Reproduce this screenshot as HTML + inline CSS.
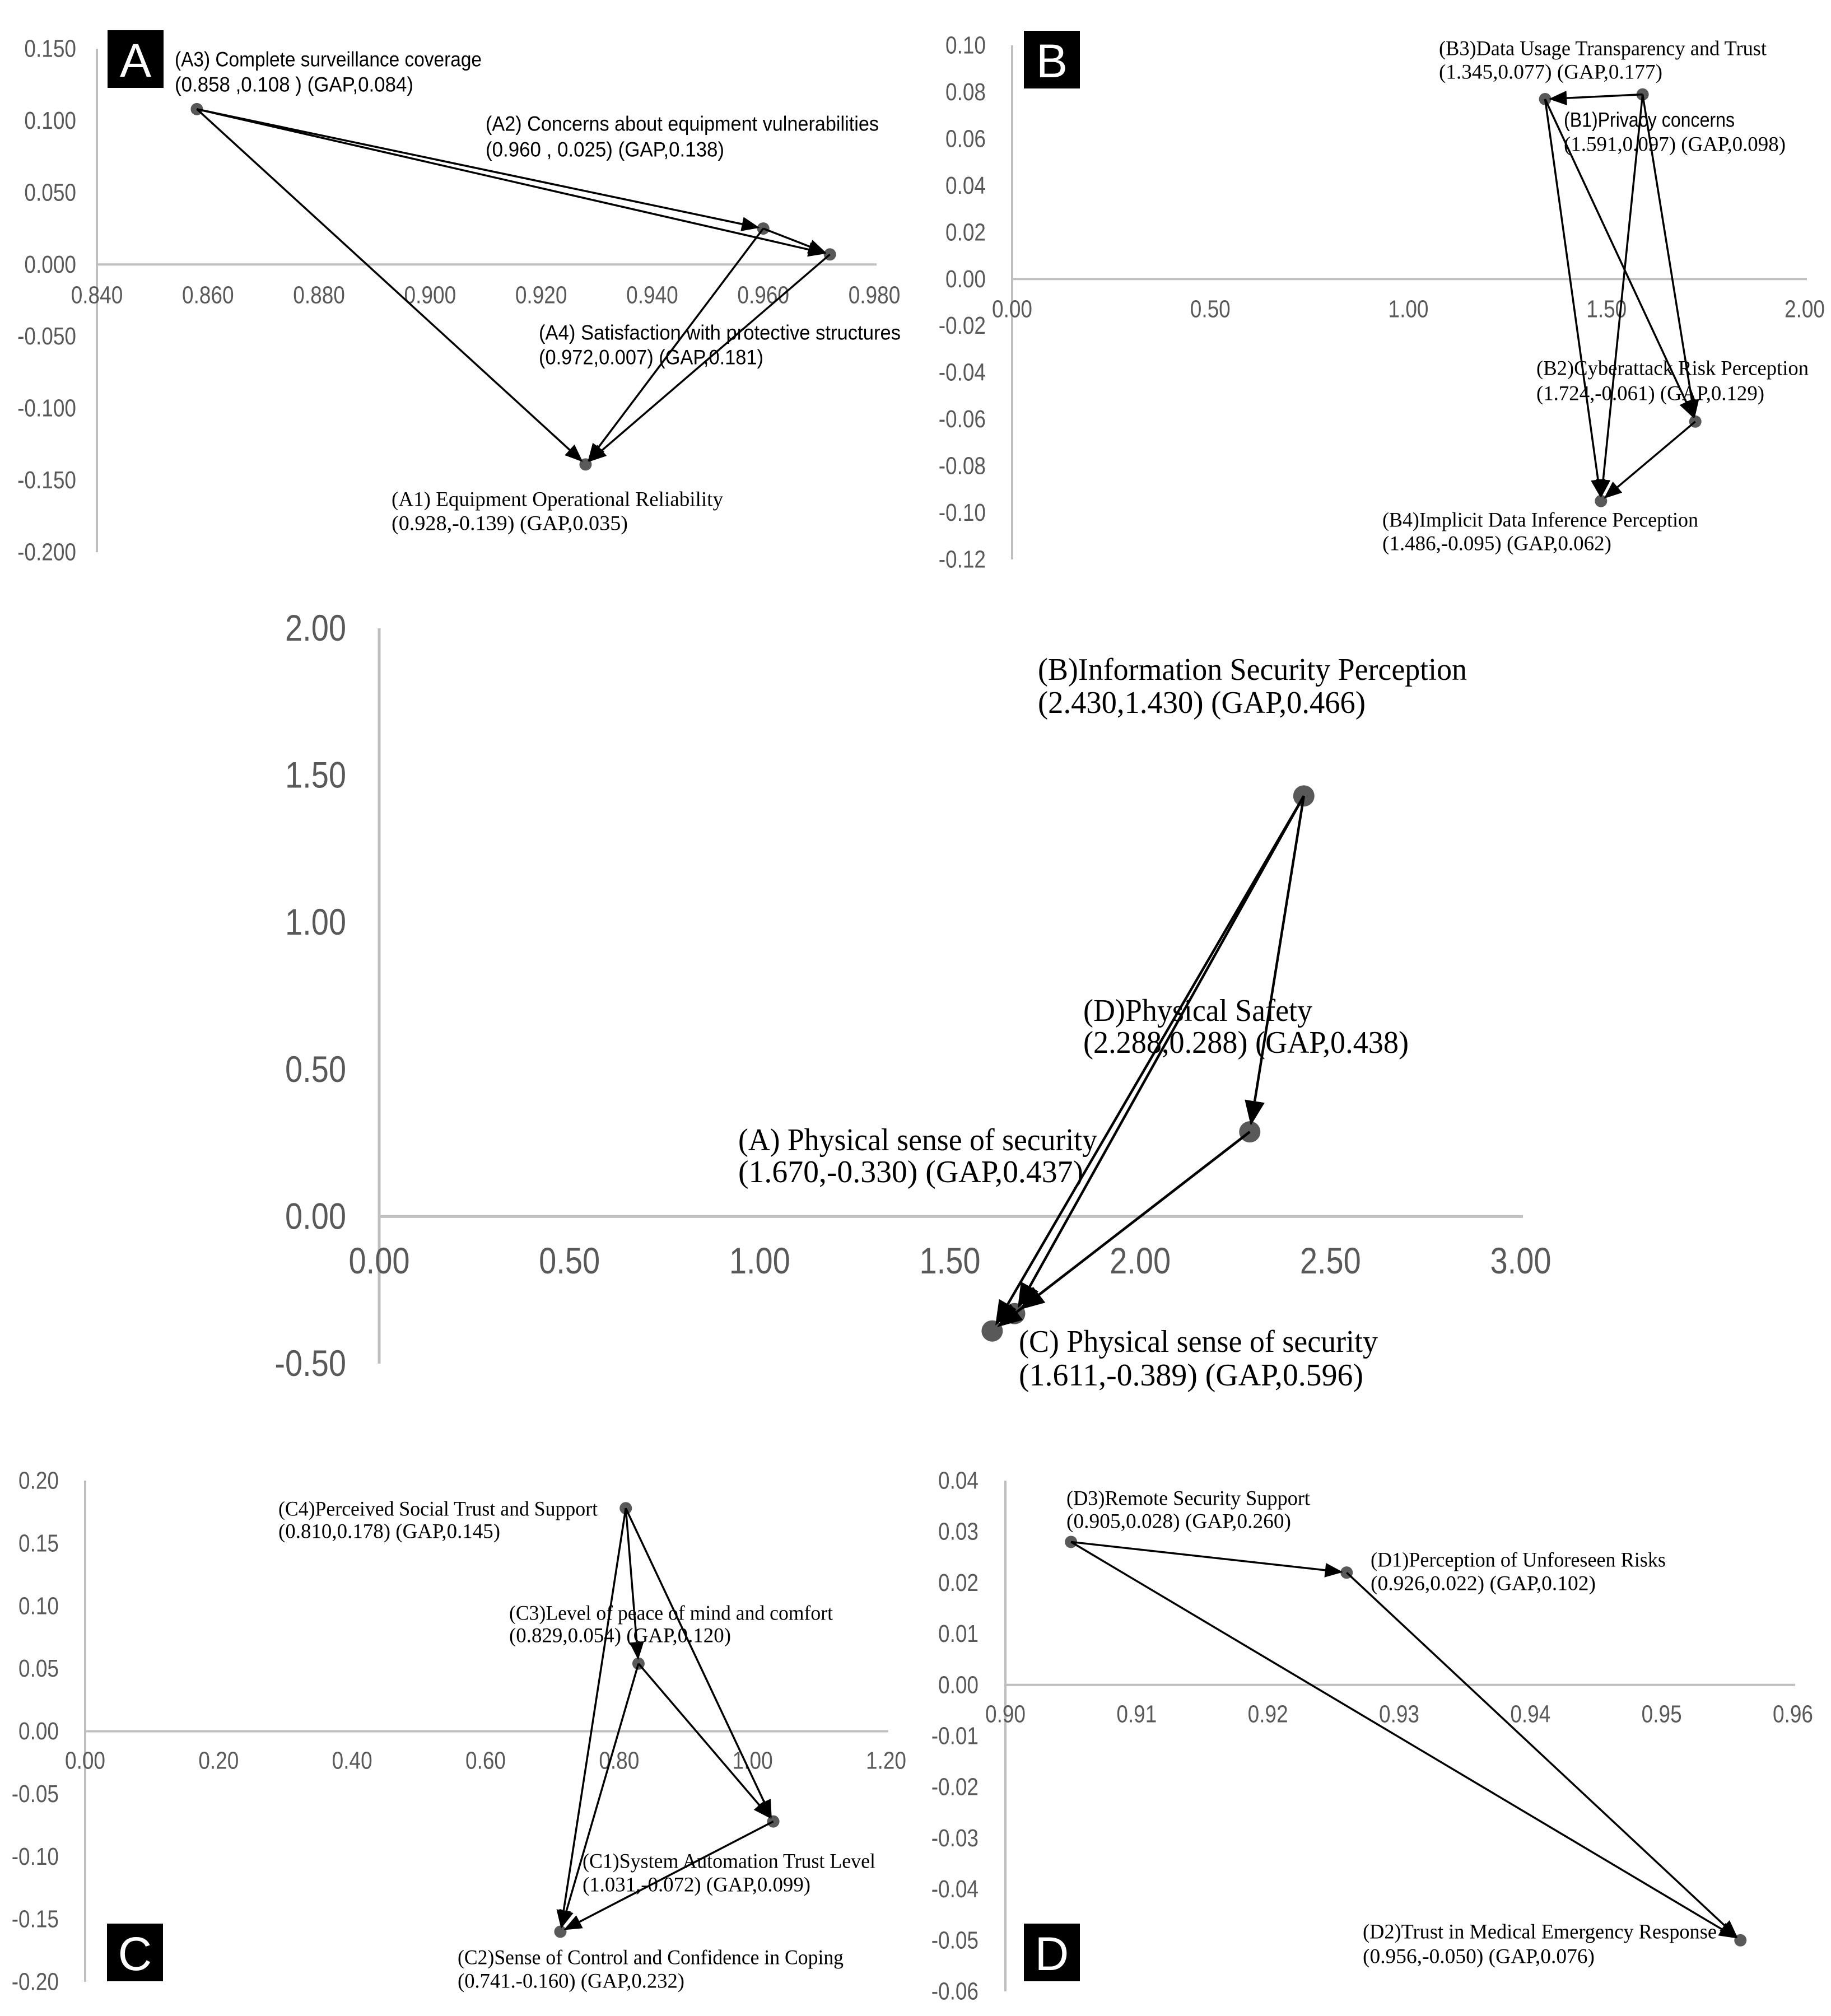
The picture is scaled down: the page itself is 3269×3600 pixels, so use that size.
<!DOCTYPE html>
<html><head><meta charset="utf-8"><style>
html,body{margin:0;padding:0;background:#fff;}
svg{display:block;}
</style></head><body>
<svg id="fig" xmlns="http://www.w3.org/2000/svg" width="3269" height="3600" viewBox="0 0 3269 3600">
<rect x="0" y="0" width="3269" height="3600" fill="#fff"/>
</svg>
<script>
// ---------- data ----------
const aNames=["A1","A2","A3","A4"];
const aX=[0.928,0.960,0.858,0.972];
const aY=[-0.139,0.025,0.108,0.007];
const aEdgeFrom=[2,2,1,2,1,3];
const aEdgeTo=[1,3,3,0,0,0];
const aXTicks=["0.840","0.860","0.880","0.900","0.920","0.940","0.960","0.980"];
const aYTicks=["0.150","0.100","0.050","0.000","-0.050","-0.100","-0.150","-0.200"];

const bNames=["B1","B2","B3","B4"];
const bX=[1.591,1.724,1.345,1.486];
const bY=[0.079,-0.061,0.077,-0.095];
const bEdgeFrom=[0,0,0,2,2,1];
const bEdgeTo=[2,1,3,1,3,3];
const bXTicks=["0.00","0.50","1.00","1.50","2.00"];
const bYTicks=["0.10","0.08","0.06","0.04","0.02","0.00","-0.02","-0.04","-0.06","-0.08","-0.10","-0.12"];

const mNames=["A","B","C","D"];
const mX=[1.670,2.430,1.611,2.288];
const mY=[-0.330,1.430,-0.389,0.288];
const mEdgeFrom=[1,1,1,3,3];
const mEdgeTo=[3,0,2,0,2];
const mXTicks=["0.00","0.50","1.00","1.50","2.00","2.50","3.00"];
const mYTicks=["2.00","1.50","1.00","0.50","0.00","-0.50"];

const cNames=["C1","C2","C3","C4"];
const cX=[1.031,0.712,0.829,0.810];
const cY=[-0.072,-0.160,0.054,0.178];
const cEdgeFrom=[3,3,3,2,2,0];
const cEdgeTo=[2,0,1,0,1,1];
const cXTicks=["0.00","0.20","0.40","0.60","0.80","1.00","1.20"];
const cYTicks=["0.20","0.15","0.10","0.05","0.00","-0.05","-0.10","-0.15","-0.20"];

const dNames=["D1","D2","D3"];
const dX=[0.926,0.956,0.905];
const dY=[0.022,-0.050,0.028];
const dEdgeFrom=[2,2,0];
const dEdgeTo=[0,1,1];
const dXTicks=["0.90","0.91","0.92","0.93","0.94","0.95","0.96"];
const dYTicks=["0.04","0.03","0.02","0.01","0.00","-0.01","-0.02","-0.03","-0.04","-0.05","-0.06"];

// ---------- drawing ----------
const NS="http://www.w3.org/2000/svg";
const svg=document.getElementById('fig');
function mk(tag,attrs,parent){const e=document.createElementNS(NS,tag);for(const k in attrs)e.setAttribute(k,attrs[k]);(parent||svg).appendChild(e);return e;}
function condense(tx,bigSize){
  const w=tx.getComputedTextLength();
  tx.setAttribute('font-size',bigSize);
  tx.setAttribute('textLength',w.toFixed(1));
  tx.setAttribute('lengthAdjust','spacingAndGlyphs');
}

function panel(cfg){
  const g=mk('g',{});
  
  
  const xv=cfg.xTicks.map(Number), yv=cfg.yTicks.map(Number);
  const xmin=xv[0],xmax=xv[xv.length-1],ymax=yv[0],ymin=yv[yv.length-1];
  const sx=v=>cfg.x0+(v-xmin)/(xmax-xmin)*(cfg.x1-cfg.x0);
  const sy=v=>cfg.yTop+(ymax-v)/(ymax-ymin)*(cfg.yBot-cfg.yTop);
  const ya=mk('line',{x1:sx(xmin),x2:sx(xmin),y1:cfg.yTop,y2:cfg.yBot,stroke:'#bfbfbf','stroke-width':cfg.aw},g);
  
  
  const xa=mk('line',{x1:sx(xmin),x2:cfg.x1+4,y1:sy(0),y2:sy(0),stroke:'#bfbfbf','stroke-width':cfg.aw},g);
  
  
  cfg.xTicks.forEach((t,i)=>{
    const tx=mk('text',{x:sx(xv[i]),y:cfg.xLabY,'text-anchor':'middle','dominant-baseline':'central','font-family':'Liberation Sans, sans-serif','font-size':cfg.tfs,fill:'#595959'},g);
    tx.textContent=t;
    
    
    condense(tx,cfg.tfs*1.18);
  });
  cfg.yTicks.forEach((t,i)=>{
    const tx=mk('text',{x:cfg.yLabX,y:sy(yv[i]),'text-anchor':'end','dominant-baseline':'central','font-family':'Liberation Sans, sans-serif','font-size':cfg.tfs,fill:'#595959'},g);
    tx.textContent=t;
    
    
    condense(tx,cfg.tfs*1.18);
  });
  cfg.xs.forEach((v,i)=>{
    const c=mk('circle',{cx:sx(v),cy:sy(cfg.ys[i]),r:cfg.r,fill:'#595959'},g);
    
    
  });
  cfg.from.forEach((f,k)=>{
    const t=cfg.to[k];
    const x1=sx(cfg.xs[f]),y1=sy(cfg.ys[f]),x2=sx(cfg.xs[t]),y2=sy(cfg.ys[t]);
    const dx=x2-x1,dy=y2-y1,L=Math.hypot(dx,dy),ux=dx/L,uy=dy/L;
    const tipx=x2-ux*(cfg.r*0.6),tipy=y2-uy*(cfg.r*0.6);
    const bx=tipx-ux*cfg.hl,by=tipy-uy*cfg.hl;
    const ln=mk('line',{x1:x1,y1:y1,x2:bx,y2:by,stroke:'#000','stroke-width':cfg.lw},g);
    
    
    const hw=cfg.hw;
    const pts=[tipx,tipy,bx-uy*hw,by+ux*hw,bx+uy*hw,by-ux*hw].map(v=>v.toFixed(1));
    const hd=mk('polygon',{points:pts[0]+','+pts[1]+' '+pts[2]+','+pts[3]+' '+pts[4]+','+pts[5],fill:'#000'},g);
    
    
  });
  cfg.labels.forEach(L=>{
    const tx=mk('text',{x:L[0],y:L[1],'dominant-baseline':'central','font-family':L[4]==='s'?'Liberation Sans, sans-serif':'Liberation Serif, serif','font-size':cfg.lfs,fill:'#000',textLength:L[3],lengthAdjust:'spacingAndGlyphs'},g);
    tx.textContent=L[2];
    
    
  });
  if(cfg.box){
    const r=mk('rect',{x:cfg.box[0],y:cfg.box[1],width:100,height:103,fill:'#000'},g);
    
    
    const tx=mk('text',{x:cfg.box[0]+50,y:cfg.box[1]+54,'text-anchor':'middle','dominant-baseline':'central','font-family':'Liberation Sans, sans-serif','font-size':84,fill:'#fff'},g);
    tx.textContent=cfg.box[2];
    
    
  }
}

panel({name:'panel-a',names:aNames,xs:aX,ys:aY,from:aEdgeFrom,to:aEdgeTo,xTicks:aXTicks,yTicks:aYTicks,
  x0:173,x1:1561,yTop:87,yBot:986,aw:4,tfs:37,xLabY:527,yLabX:136,r:11,lw:3.5,hl:32,hw:13,lfs:37,box:[192,54,'A'],
  labels:[[312,106,'(A3) Complete surveillance coverage',548,'s'],[312,151,'(0.858 ,0.108 )  (GAP,0.084)',426,'s'],
          [867,221,'(A2) Concerns about equipment vulnerabilities',702,'s'],[867,267,'(0.960 , 0.025)  (GAP,0.138)',426,'s'],
          [962,594,'(A4) Satisfaction with protective structures',646,'s'],[962,638,'(0.972,0.007) (GAP,0.181)',401,'s'],
          [699,892,'(A1) Equipment Operational Reliability',592,'r'],[699,935,'(0.928,-0.139)  (GAP,0.035)',422,'r']]});

panel({name:'panel-b',names:bNames,xs:bX,ys:bY,from:bEdgeFrom,to:bEdgeTo,xTicks:bXTicks,yTicks:bYTicks,
  x0:1807,x1:3222,yTop:81,yBot:999,aw:4,tfs:37,xLabY:552,yLabX:1760,r:11,lw:3.5,hl:32,hw:13,lfs:37,box:[1828,55,'B'],
  labels:[[2569,87,'(B3)Data Usage Transparency and Trust',585,'r'],[2569,129,'(1.345,0.077)  (GAP,0.177)',399,'r'],
          [2792,214,'(B1)Privacy concerns',305,'s'],[2792,258,'(1.591,0.097)  (GAP,0.098)',396,'r'],
          [2743,658,'(B2)Cyberattack Risk Perception',486,'r'],[2743,703,'(1.724,-0.061)  (GAP,0.129)',407,'r'],
          [2468,929,'(B4)Implicit Data Inference Perception',564,'r'],[2468,971,'(1.486,-0.095)  (GAP,0.062)',409,'r']]});

panel({name:'panel-main',names:mNames,xs:mX,ys:mY,from:mEdgeFrom,to:mEdgeTo,xTicks:mXTicks,yTicks:mYTicks,
  x0:677,x1:2715,yTop:1122,yBot:2435,aw:5,tfs:56,xLabY:2252,yLabX:618,r:19,lw:4.5,hl:44,hw:18,lfs:56,box:null,
  labels:[[1853,1196,'(B)Information Security Perception',766,'r'],[1853,1255,'(2.430,1.430) (GAP,0.466)',585,'r'],
          [1934,1805,'(D)Physical Safety',409,'r'],[1934,1862,'(2.288,0.288) (GAP,0.438)',581,'r'],
          [1318,2036,'(A) Physical sense of security',641,'r'],[1318,2093,'(1.670,-0.330)  (GAP,0.437)',616,'r'],
          [1819,2396,'(C) Physical sense of security',641,'r'],[1819,2456,'(1.611,-0.389)  (GAP,0.596)',615,'r']]});

panel({name:'panel-c',names:cNames,xs:cX,ys:cY,from:cEdgeFrom,to:cEdgeTo,xTicks:cXTicks,yTicks:cYTicks,
  x0:152,x1:1582,yTop:2644,yBot:3539,aw:4,tfs:37,xLabY:3144,yLabX:105,r:11,lw:3.5,hl:32,hw:13,lfs:37,box:[191,3435,'C'],
  labels:[[497,2695,'(C4)Perceived Social Trust and Support',570,'r'],[497,2735,'(0.810,0.178)  (GAP,0.145)',396,'r'],
          [909,2881,'(C3)Level of peace of mind and comfort',578,'r'],[909,2921,'(0.829,0.054)  (GAP,0.120)',396,'r'],
          [1040,3324,'(C1)System Automation Trust Level',523,'r'],[1040,3366,'(1.031,-0.072)  (GAP,0.099)',407,'r'],
          [817,3496,'(C2)Sense of Control and Confidence in Coping',689,'r'],[817,3538,'(0.741.-0.160)  (GAP,0.232)',405,'r']]});

panel({name:'panel-d',names:dNames,xs:dX,ys:dY,from:dEdgeFrom,to:dEdgeTo,xTicks:dXTicks,yTicks:dYTicks,
  x0:1795,x1:3201,yTop:2644,yBot:3556,aw:4,tfs:37,xLabY:3061,yLabX:1747,r:11,lw:3.5,hl:32,hw:13,lfs:37,box:[1828,3435,'D'],
  labels:[[1904,2676,'(D3)Remote Security Support',435,'r'],[1904,2717,'(0.905,0.028)  (GAP,0.260)',401,'r'],
          [2447,2786,'(D1)Perception of Unforeseen Risks',527,'r'],[2447,2828,'(0.926,0.022)  (GAP,0.102)',402,'r'],
          [2433,3450,'(D2)Trust in Medical Emergency Response',632,'r'],[2433,3494,'(0.956,-0.050)  (GAP,0.076)',414,'r']]});
</script>
</body></html>
